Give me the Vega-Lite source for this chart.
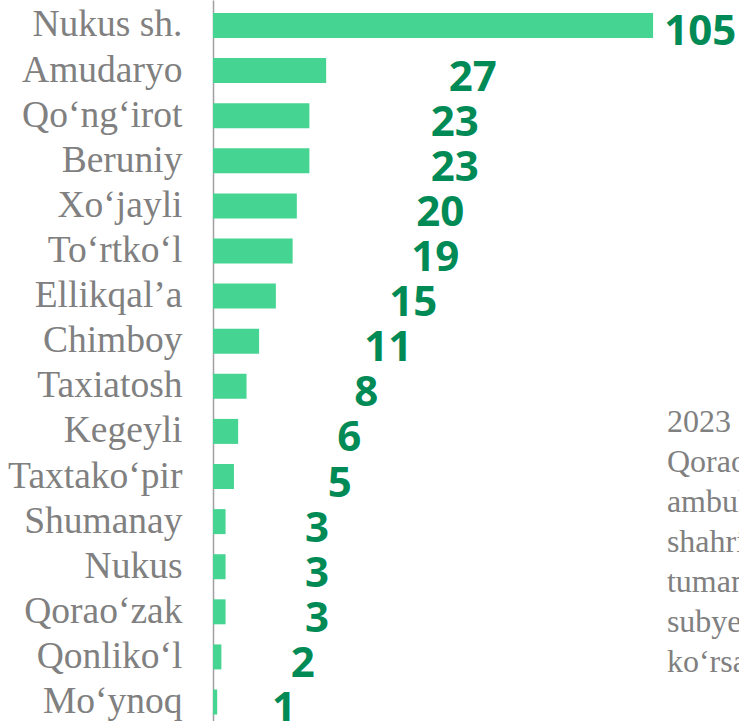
{
  "$schema": "https://vega.github.io/schema/vega-lite/v6.json",
  "width": 526,
  "height": 721,
  "autosize": {"type": "none"},
  "padding": {"left": 213, "top": 0, "right": 0, "bottom": 0},
  "background": "white",
  "config": {"view": {"stroke": null}},
  "datasets": {
    "districts": [
      {"district": "Nukus sh.", "count": 105},
      {"district": "Amudaryo", "count": 27},
      {"district": "Qo‘ng‘irot", "count": 23},
      {"district": "Beruniy", "count": 23},
      {"district": "Xo‘jayli", "count": 20},
      {"district": "To‘rtko‘l", "count": 19},
      {"district": "Ellikqal’a", "count": 15},
      {"district": "Chimboy", "count": 11},
      {"district": "Taxiatosh", "count": 8},
      {"district": "Kegeyli", "count": 6},
      {"district": "Taxtako‘pir", "count": 5},
      {"district": "Shumanay", "count": 3},
      {"district": "Nukus", "count": 3},
      {"district": "Qorao‘zak", "count": 3},
      {"district": "Qonliko‘l", "count": 2},
      {"district": "Mo‘ynoq", "count": 1}
    ],
    "note": [
      {"line": 1, "text": "     2023"},
      {"line": 2, "text": "Qorao‘zak"},
      {"line": 3, "text": "ambulator"},
      {"line": 4, "text": "shahri"},
      {"line": 5, "text": "tumanlari"},
      {"line": 6, "text": "subyektlari"},
      {"line": 7, "text": "ko‘rsatkichi"}
    ]
  },
  "layer": [
    {
      "data": {"name": "districts"},
      "layer": [
        {
          "mark": {"type": "bar", "color": "#46D492"},
          "encoding": {
            "y": {
              "field": "district",
              "type": "nominal",
              "sort": null,
              "scale": {"paddingInner": 0.446, "paddingOuter": 0.216, "align": 0.667},
              "axis": {
                "title": null,
                "ticks": false,
                "tickSize": 0,
                "labelPadding": 31,
                "labelFont": "Liberation Serif",
                "labelFontSize": 37.5,
                "labelColor": "#808080",
                "labelLimit": 300,
                "domainColor": "#a0a0a0",
                "domainWidth": 1.5,
                "grid": false
              }
            },
            "x": {
              "field": "count",
              "type": "quantitative",
              "scale": {"domain": [0, 125.5], "nice": false},
              "axis": null
            }
          }
        },
        {
          "mark": {
            "type": "text",
            "font": "Open Sans",
            "fontWeight": "bold",
            "fontSize": 42,
            "color": "#008A55",
            "align": "center",
            "baseline": "middle",
            "dx": 26,
            "dy": 7
          },
          "encoding": {
            "y": {"field": "district", "type": "nominal", "sort": null},
            "x": {
              "field": "count",
              "type": "quantitative",
              "scale": {"type": "sqrt", "domain": [0, 136.6], "nice": false, "zero": true},
              "axis": null
            },
            "text": {"field": "count", "type": "quantitative"}
          }
        }
      ],
      "resolve": {"scale": {"x": "independent"}}
    },
    {
      "data": {"name": "note"},
      "mark": {
        "type": "text",
        "font": "Liberation Serif",
        "fontSize": 32,
        "color": "#808080",
        "align": "left",
        "baseline": "alphabetic"
      },
      "encoding": {
        "x": {
          "datum": 108.3,
          "type": "quantitative",
          "scale": {"domain": [0, 125.5], "nice": false},
          "axis": null
        },
        "y": {
          "field": "line",
          "type": "quantitative",
          "scale": {"domain": [-9.8, 8.225], "reverse": true, "nice": false, "zero": false},
          "axis": null
        },
        "text": {"field": "text"}
      }
    }
  ],
  "resolve": {"scale": {"x": "independent", "y": "independent"}}
}
